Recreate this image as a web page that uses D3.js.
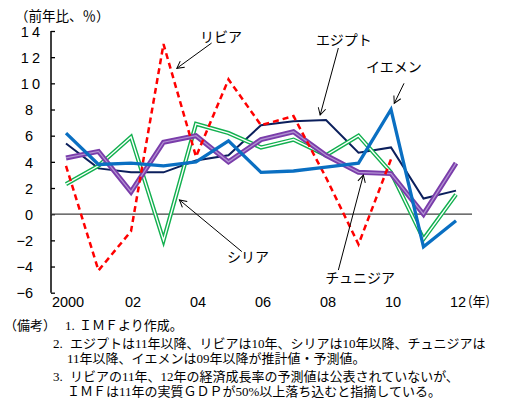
<!DOCTYPE html>
<html>
<head>
<meta charset="utf-8">
<script src="https://cdn.jsdelivr.net/npm/d3@7"></script>
<style>
  body { margin: 0; background: #fff; }
  svg text { fill: #000; }
</style>
</head>
<body>
<div id="viz-container"></div>
<script>
// chart values
const years = [2000, 2001, 2002, 2003, 2004, 2005, 2006, 2007, 2008, 2009, 2010, 2011, 2012];
const egypt = [5.4, 3.5, 3.2, 3.2, 4.1, 4.5, 6.8, 7.1, 7.2, 4.7, 5.1, 1.2, 1.8];
const libya = [3.7, -4.3, -1.3, 13.0, 4.4, 10.3, 6.8, 7.5, 2.8, -2.3, 4.2];
const syria = [2.3, 3.7, 5.9, -2.0, 6.9, 6.2, 5.1, 5.7, 4.5, 6.0, 3.2, -1.9, 1.5];
const tunisia = [4.3, 4.8, 1.7, 5.5, 6.0, 4.0, 5.7, 6.3, 4.5, 3.2, 3.1, 0.0, 3.9];
const yemen = [6.2, 3.8, 3.9, 3.7, 4.0, 5.6, 3.2, 3.3, 3.6, 3.9, 8.0, -2.5, -0.5];

const yTicks = [-6, -4, -2, 0, 2, 4, 6, 8, 10, 12, 14];
const xTicks = [2000, 2002, 2004, 2006, 2008, 2010, 2012];
const xTickLabels = ['2000', '02', '04', '06', '08', '10', '12'];

// label text, label position and arrow (tail -> head) in data units
const labels = [
  {text: 'リビア', at: [2004.77, 13.54], from: [2004.48, 13.08], to: [2003.41, 11.15]},
  {text: 'エジプト', at: [2008.55, 13.3], from: [2008.38, 12.7], to: [2007.82, 7.58]},
  {text: 'イエメン', at: [2010.09, 11.22], from: [2010.4, 10.0], to: [2010.1, 8.47]},
  {text: 'シリア', at: [2005.6, -3.28], from: [2005.41, -2.86], to: [2003.49, 1.09]},
  {text: 'チュニジア', at: [2009.05, -4.9], from: [2008.38, -4.27], to: [2009.15, 2.99]}
];

const notes = [
  {x: 4, y: 329.5, text: '（備考）'},
  {x: 65, y: 329.5, text: '1.'},
  {x: 79, y: 329.5, text: 'ＩＭＦより作成。'},
  {x: 53, y: 347.5, text: '2.'},
  {x: 70, y: 347.5, text: 'エジプトは11年以降、リビアは10年、シリアは10年以降、チュニジアは'},
  {x: 67, y: 363, text: '11年以降、イエメンは09年以降が推計値・予測値。'},
  {x: 53, y: 381, text: '3.'},
  {x: 70, y: 381, text: 'リビアの11年、12年の経済成長率の予測値は公表されていないが、'},
  {x: 67, y: 396, text: 'ＩＭＦは11年の実質ＧＤＰが50%以上落ち込むと指摘している。'}
];

const width = 512;
const height = 410;
const numFont = '"Liberation Sans Narrow", "Liberation Sans", Arial, sans-serif';
const jpFont = '"Noto Sans CJK JP", sans-serif';
const noteFont = '"Liberation Serif", "Noto Sans CJK JP", serif';

const svg = d3.select('#viz-container')
  .append('svg')
  .attr('width', width)
  .attr('height', height);

const x = d3.scaleLinear()
  .domain([2000, 2012])
  .range([66, 456]);

const y = d3.scaleLinear()
  .domain([-6, 14])
  .range([292.7, 31]);

svg.append('defs')
  .append('marker')
  .attr('id', 'arrow')
  .attr('markerUnits', 'userSpaceOnUse')
  .attr('viewBox', '-9 -5 11 10')
  .attr('markerWidth', 11)
  .attr('markerHeight', 10)
  .attr('refX', 0)
  .attr('refY', 0)
  .attr('orient', 'auto')
  .append('path')
  .attr('d', 'M-7,-3.8L0,0L-7,3.8')
  .attr('fill', 'none')
  .attr('stroke', '#000')
  .attr('stroke-width', 1);

// y axis, ticks pointing inward
const yAxis = svg.append('g')
  .attr('transform', `translate(${51},0)`)
  .call(d3.axisRight(y).tickValues(yTicks).tickSize(4).tickFormat(d => d < 0 ? '−' + Math.abs(d) : String(d)));
yAxis.select('.domain')
  .attr('stroke', '#000')
  .attr('stroke-width', 1.5)
  .attr('d', `M0,${y(14)}V${y(-6)}`);
yAxis.selectAll('.tick line').attr('stroke', '#000').attr('stroke-width', 1.3);
yAxis.selectAll('.tick text')
  .attr('text-anchor', 'end')
  .attr('x', d => Math.abs(d) >= 10 ? -8 : -18)
  .attr('letter-spacing', d => Math.abs(d) >= 10 ? '3px' : null)
  .attr('dy', '0.36em')
  .style('font-family', numFont)
  .style('font-size', '14.5px');

// zero line
svg.append('line')
  .attr('x1', 51)
  .attr('x2', 472)
  .attr('y1', y(0))
  .attr('y2', y(0))
  .attr('stroke', '#404040')
  .attr('stroke-width', 1.2);

// x axis labels only
const xAxis = svg.append('g')
  .attr('transform', `translate(1.5,${295})`)
  .call(d3.axisBottom(x).tickValues(xTicks).tickSize(0).tickFormat((d, i) => xTickLabels[i]));
xAxis.select('.domain').remove();
xAxis.selectAll('.tick text')
  .attr('y', 0)
  .attr('dy', '0.85em')
  .style('font-family', numFont)
  .style('font-size', '14.5px');

svg.append('text')
  .attr('x', 468)
  .attr('y', 306)
  .style('font-family', jpFont)
  .style('font-size', '13px')
  .text('(年)');

svg.append('text')
  .attr('x', 15)
  .attr('y', 21)
  .style('font-family', jpFont)
  .style('font-size', '13.5px')
  .text('（前年比、％）');

const line = d3.line()
  .x((d, i) => x(years[i]))
  .y(d => y(d));

// Egypt
svg.append('path')
  .datum(egypt)
  .attr('d', line)
  .attr('fill', 'none')
  .attr('stroke', '#0B1F5C')
  .attr('stroke-width', 2)
  .attr('stroke-linejoin', 'miter');

// Syria, double line
svg.append('path')
  .datum(syria)
  .attr('d', line)
  .attr('fill', 'none')
  .attr('stroke', '#12B04F')
  .attr('stroke-width', 4.2);
svg.append('path')
  .datum(syria)
  .attr('d', line)
  .attr('fill', 'none')
  .attr('stroke', '#fff')
  .attr('stroke-width', 1.4);

// Tunisia
svg.append('path')
  .datum(tunisia)
  .attr('d', line)
  .attr('fill', 'none')
  .attr('stroke', '#7A3DAA')
  .attr('stroke-width', 5);
svg.append('path')
  .datum(tunisia)
  .attr('d', line)
  .attr('fill', 'none')
  .attr('stroke', '#B292D2')
  .attr('stroke-width', 1.3);

// Libya
svg.append('path')
  .datum(libya)
  .attr('d', line)
  .attr('fill', 'none')
  .attr('stroke', '#FF0000')
  .attr('stroke-width', 2.5)
  .attr('stroke-dasharray', '6,4');

// Yemen
svg.append('path')
  .datum(yemen)
  .attr('d', line)
  .attr('fill', 'none')
  .attr('stroke', '#0A6FC2')
  .attr('stroke-width', 3.3)
  .attr('stroke-linejoin', 'miter');

// annotations
svg.selectAll('.ann-line')
  .data(labels)
  .join('line')
  .attr('class', 'ann-line')
  .attr('x1', d => x(d.from[0]))
  .attr('y1', d => y(d.from[1]))
  .attr('x2', d => x(d.to[0]))
  .attr('y2', d => y(d.to[1]))
  .attr('stroke', '#000')
  .attr('stroke-width', 1)
  .attr('marker-end', 'url(#arrow)');

svg.selectAll('.ann-text')
  .data(labels)
  .join('text')
  .attr('class', 'ann-text')
  .attr('x', d => x(d.at[0]))
  .attr('y', d => y(d.at[1]))
  .attr('dy', '0.36em')
  .attr('text-anchor', 'middle')
  .style('font-family', jpFont)
  .style('font-size', '14px')
  .text(d => d.text);

// notes
svg.selectAll('.note')
  .data(notes)
  .join('text')
  .attr('class', 'note')
  .attr('x', d => d.x)
  .attr('y', d => d.y)
  .style('font-family', noteFont)
  .style('font-size', '13px')
  .text(d => d.text);
</script>
</body>
</html>
